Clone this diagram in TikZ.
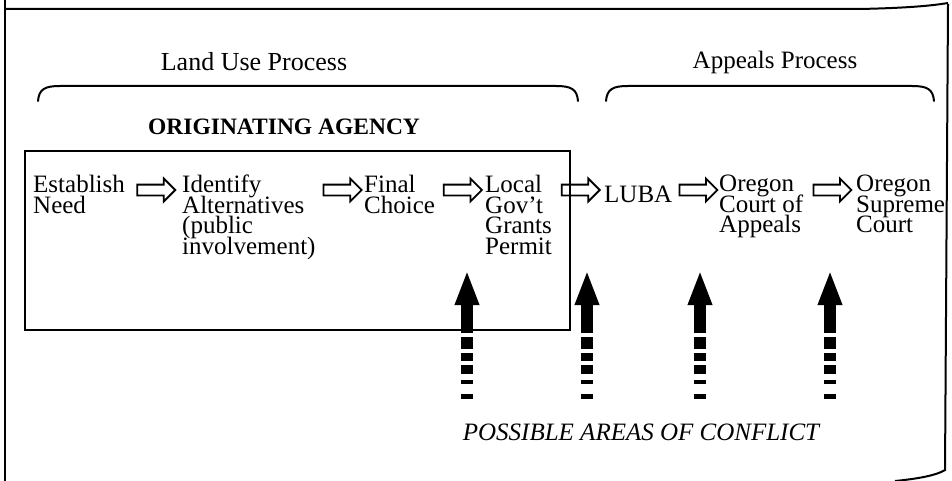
\documentclass[tikz,border=0pt]{standalone}
\usepackage{fontspec}
\setmainfont{Liberation Serif}
\usetikzlibrary{arrows.meta,shapes.arrows,calc}

\newcommand\stepfont{\fontsize{25}{20.5}\selectfont\lineskiplimit-30pt\relax}

\tikzset{
  steptext/.style={anchor=north west, align=left, inner sep=0pt, font=\stepfont},
  flowarrow/.style={draw, line width=1.8pt, single arrow, single arrow head extend=6pt, minimum height=38pt, text height=9pt, text depth=0pt, inner sep=0pt},
  conflictarrow/.style={line width=12pt, -{Triangle[length=35pt,width=22pt]}},
  conflictdash/.style={line width=12pt, dash pattern=on 12pt off 4pt on 8pt off 4pt on 9pt off 6pt on 4pt off 10pt on 5pt off 30pt},
  bracket/.style={line width=2pt, line cap=round},
}

\begin{document}
\begin{tikzpicture}[x=1pt, y=-1pt]
\useasboundingbox (0,0) rectangle (952,481);
% page frame
\draw[line width=2.5pt] (5,0) -- (5,481);
\draw[line width=2pt] (5,9) -- (860,9) .. controls (905,8) and (930,6) .. (948,3);
\draw[line width=2pt] (948,4) -- (945,470) .. controls (935,476) and (915,479) .. (895,481);

% headings and brackets
\node[font=\fontsize{26}{26}\selectfont](landuse) at (254,62){Land Use Process};
\node[font=\fontsize{25}{25}\selectfont](appeals) at (775,62){Appeals Process};
\draw[bracket] (38,101) .. controls (39,89) and (45,86) .. (60,86) -- (556,86) .. controls (571,86) and (577,89) .. (578,101);
\draw[bracket] (606,101) .. controls (607,89) and (613,86) .. (628,86) -- (912,86) .. controls (927,86) and (933,89) .. (934,101);

\node[anchor=west, inner sep=0pt, font=\bfseries\fontsize{23.5}{23}\selectfont](agency) at (148,127){ORIGINATING AGENCY};
\draw[line width=2pt] (25,151) rectangle (570,330);

% steps
\node[steptext](need) at (33,175){Establish\\Need};
\node[steptext](alt) at (182,175){Identify\\Alternatives\\(public\\involvement)};
\node[steptext](choice) at (364,175){Final\\Choice};
\node[steptext](permit) at (485,175){Local\\Gov't\\Grants\\Permit};
\node[steptext](luba) at (604,186){LUBA};
\node[steptext](court) at (719,175){Oregon\\Court of\\Appeals};
\node[steptext](supreme) at (856,175){Oregon\\Supreme\\Court};

\coordinate(row) at (0,190);
\foreach \a/\b in {need/alt,alt/choice,choice/permit,permit/luba,luba/court,court/supreme}{
  \coordinate(mid) at ($(\a.east)!.5!(\b.west)$);
  \node[flowarrow](\a\b) at (mid |- row){};
}

% conflict arrows
\foreach \x [count=\i] in {467,587,700,830}{
  \coordinate(base\i) at (\x,333);
  \coordinate(tip\i) at (\x,270);
  \coordinate(foot\i) at (\x,337);
  \coordinate(end\i) at (\x,420);
  \draw[conflictdash] (foot\i) -- (end\i);
  \draw[conflictarrow] (base\i) -- (tip\i);
}
\node[font=\itshape\fontsize{25}{25}\selectfont](conflict) at (641,432){POSSIBLE AREAS OF CONFLICT};
\end{tikzpicture}
\end{document}
